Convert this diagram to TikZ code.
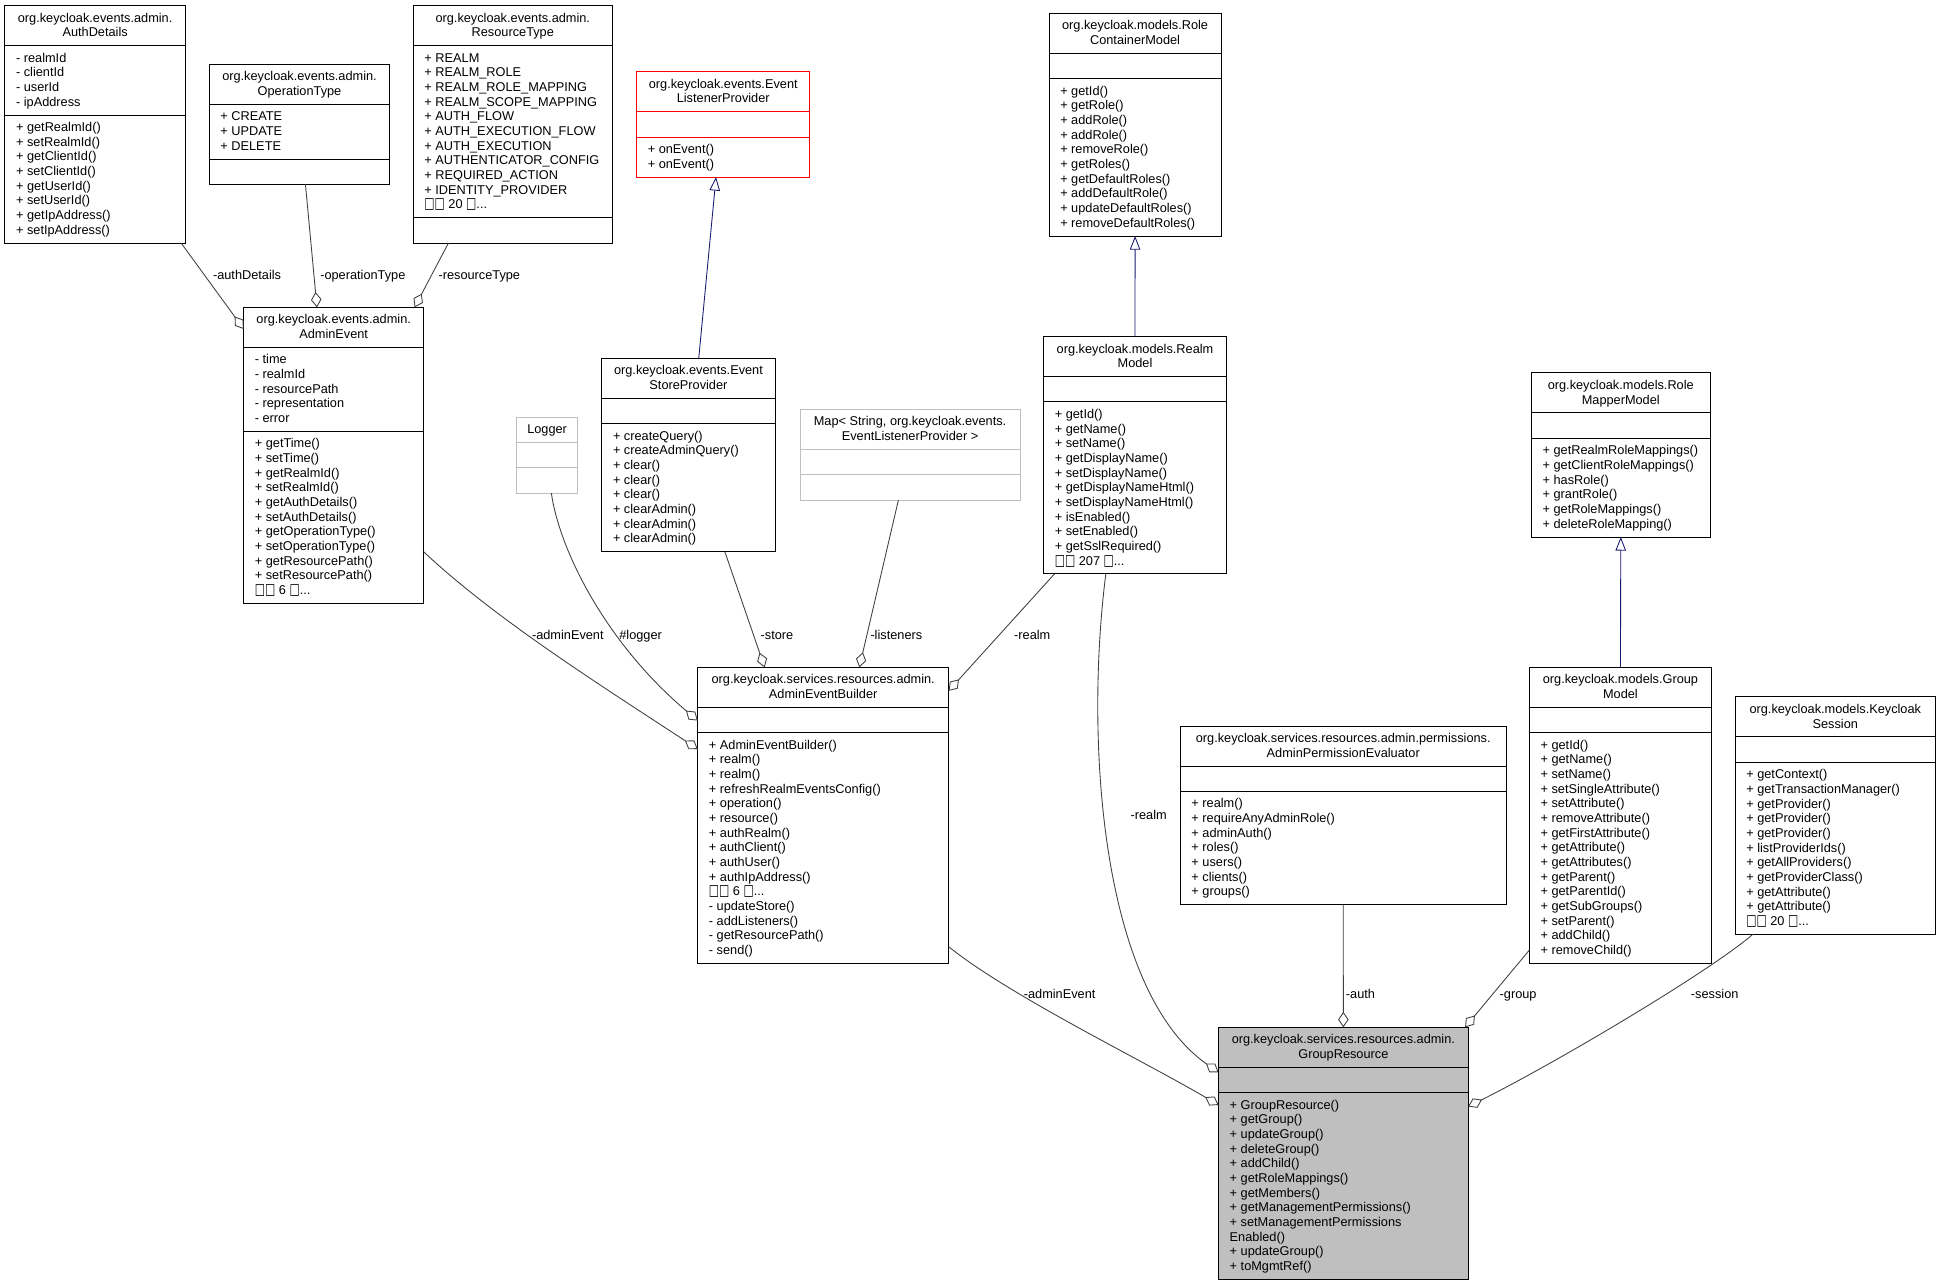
\documentclass[tikz,border=0pt]{standalone}
\usepackage{fontspec}
\usepackage{graphicx}
\setmainfont{Liberation Sans}
\newfontfamily\tofufont{DejaVu Sans}
\usetikzlibrary{arrows.meta}

\definecolor{edgegray}{HTML}{404040}
\definecolor{genblue}{HTML}{191970}
\definecolor{lightborder}{HTML}{BFBFBF}
\definecolor{grfill}{HTML}{BFBFBF}

\newcommand\ls{\rule{0pt}{8.6pt}}
\newcommand\classfont{\fontsize{10.3pt}{11.85pt}\selectfont}
\newcommand\tofu{\scalebox{0.85}[1.2]{\tofufont □}}
\newcommand\more[1]{\tofu\tofu{} #1 \tofu...}

\tikzset{
  classbox/.style={draw=black, line width=0.8pt, fill=white, inner sep=0pt, outer sep=0pt},
  sepline/.style={draw=black, line width=0.8pt},
  ctext/.style={inner sep=0pt, outer sep=0pt, font=\classfont, text=black},
  agg/.style={draw=edgegray, line width=0.7pt, -{Diamond[open,length=12.5pt,width=8.5pt]}},
  gen/.style={draw=genblue, line width=0.7pt, -{Triangle[open,length=11pt,width=8.5pt]}},
  elabel/.style={inner sep=0pt, font=\classfont, text=black, anchor=base},
}

\def\cbparse#1,#2,#3\relax{\def\cbnT{#1}\def\cbnA{#2}\def\cbnM{#3}}

% #1 style, #2 id, #3 x, #4 y, #5 width, #6 counts, #7 title, #8 attributes, #9 methods
\newcommand\umlclass[9][]{%
  \cbparse#6\relax
  \pgfmathsetmacro\cbhT{\cbnT*11.85+8.6}%
  \pgfmathsetmacro\cbhA{(\cbnA==0)?20.5:(\cbnA*11.85+8.6)}%
  \pgfmathsetmacro\cbhM{(\cbnM==0)?20.5:(\cbnM*11.85+8.6)}%
  \pgfmathsetmacro\cbhAll{\cbhT+\cbhA+\cbhM}%
  \pgfmathsetmacro\cbhTA{\cbhT+\cbhA}%
  \pgfmathsetmacro\cbyA{\cbhT+4.7}%
  \pgfmathsetmacro\cbyM{\cbhTA+4.7}%
  \node[classbox,#1,minimum width=#5pt,minimum height=\cbhAll pt,anchor=north west] (#2) at (#3,#4) {};
  \draw[sepline,#1] ([yshift=-\cbhT pt]#2.north west) -- ([yshift=-\cbhT pt]#2.north east);
  \draw[sepline,#1] ([yshift=-\cbhTA pt]#2.north west) -- ([yshift=-\cbhTA pt]#2.north east);
  \node[ctext,anchor=north,align=center] (#2-t) at ([yshift=-4.7pt]#2.north) {\ls#7};
  \node[ctext,anchor=north west,align=left] (#2-a) at ([xshift=9pt,yshift=-\cbyA pt]#2.north west) {\ls#8};
  \node[ctext,anchor=north west,align=left] (#2-m) at ([xshift=9pt,yshift=-\cbyM pt]#2.north west) {\ls#9};
}

\begin{document}
\begin{tikzpicture}[x=1pt,y=-1pt]
\fill[white] (0,0) rectangle (1568,1038);
\useasboundingbox (0,0) rectangle (1568,1038);

% ---------------- classes ----------------
\umlclass{authdet}{4.0}{4.6}{145.7}{2,4,8}{org.keycloak.events.admin.\\AuthDetails}%
 {- realmId\\- clientId\\- userId\\- ipAddress}%
 {+ getRealmId()\\+ setRealmId()\\+ getClientId()\\+ setClientId()\\+ getUserId()\\+ setUserId()\\+ getIpAddress()\\+ setIpAddress()}

\umlclass{optype}{169.1}{52.0}{145.7}{2,3,0}{org.keycloak.events.admin.\\OperationType}%
 {+ CREATE\\+ UPDATE\\+ DELETE}{}

\umlclass{restype}{333.9}{4.6}{160.7}{2,11,0}{org.keycloak.events.admin.\\ResourceType}%
 {+ REALM\\+ REALM\_ROLE\\+ REALM\_ROLE\_MAPPING\\+ REALM\_SCOPE\_MAPPING\\+ AUTH\_FLOW\\+ AUTH\_EXECUTION\_FLOW\\+ AUTH\_EXECUTION\\+ AUTHENTICATOR\_CONFIG\\+ REQUIRED\_ACTION\\+ IDENTITY\_PROVIDER\\\more{20}}{}

\umlclass[draw=red]{elp}{514.3}{57.9}{139.9}{2,0,2}{org.keycloak.events.Event\\ListenerProvider}%
 {}{+ onEvent()\\+ onEvent()}

\umlclass{rcm}{847.5}{10.8}{138.9}{2,0,10}{org.keycloak.models.Role\\ContainerModel}%
 {}{+ getId()\\+ getRole()\\+ addRole()\\+ addRole()\\+ removeRole()\\+ getRoles()\\+ getDefaultRoles()\\+ addDefaultRole()\\+ updateDefaultRoles()\\+ removeDefaultRoles()}

\umlclass{adminevent}{196.9}{248.3}{145.3}{2,5,11}{org.keycloak.events.admin.\\AdminEvent}%
 {- time\\- realmId\\- resourcePath\\- representation\\- error}%
 {+ getTime()\\+ setTime()\\+ getRealmId()\\+ setRealmId()\\+ getAuthDetails()\\+ setAuthDetails()\\+ getOperationType()\\+ setOperationType()\\+ getResourcePath()\\+ setResourcePath()\\\more{6}}

\umlclass[draw=lightborder]{logger}{417.2}{336.9}{49.6}{1,0,0}{Logger}{}{}

\umlclass{esp}{486.2}{289.5}{139.9}{2,0,8}{org.keycloak.events.Event\\StoreProvider}%
 {}{+ createQuery()\\+ createAdminQuery()\\+ clear()\\+ clear()\\+ clear()\\+ clearAdmin()\\+ clearAdmin()\\+ clearAdmin()}

\umlclass[draw=lightborder]{map}{646.3}{330.7}{177.7}{2,0,0}{Map< String, org.keycloak.events.\\EventListenerProvider >}{}{}

\umlclass{realm}{843.1}{271.9}{147.6}{2,0,11}{org.keycloak.models.Realm\\Model}%
 {}{+ getId()\\+ getName()\\+ setName()\\+ getDisplayName()\\+ setDisplayName()\\+ getDisplayNameHtml()\\+ setDisplayNameHtml()\\+ isEnabled()\\+ setEnabled()\\+ getSslRequired()\\\more{207}}

\umlclass{rmm}{1237.2}{301.3}{144.2}{2,0,6}{org.keycloak.models.Role\\MapperModel}%
 {}{+ getRealmRoleMappings()\\+ getClientRoleMappings()\\+ hasRole()\\+ grantRole()\\+ getRoleMappings()\\+ deleteRoleMapping()}

\umlclass{aeb}{563.7}{539.1}{202.6}{2,0,15}{org.keycloak.services.resources.admin.\\AdminEventBuilder}%
 {}{+ AdminEventBuilder()\\+ realm()\\+ realm()\\+ refreshRealmEventsConfig()\\+ operation()\\+ resource()\\+ authRealm()\\+ authClient()\\+ authUser()\\+ authIpAddress()\\\more{6}\\- updateStore()\\- addListeners()\\- getResourcePath()\\- send()}

\umlclass{ape}{953.5}{586.5}{263.2}{2,0,7}{org.keycloak.services.resources.admin.permissions.\\AdminPermissionEvaluator}%
 {}{+ realm()\\+ requireAnyAdminRole()\\+ adminAuth()\\+ roles()\\+ users()\\+ clients()\\+ groups()}

\umlclass{gm}{1235.5}{539.1}{147.1}{2,0,15}{org.keycloak.models.Group\\Model}%
 {}{+ getId()\\+ getName()\\+ setName()\\+ setSingleAttribute()\\+ setAttribute()\\+ removeAttribute()\\+ getFirstAttribute()\\+ getAttribute()\\+ getAttributes()\\+ getParent()\\+ getParentId()\\+ getSubGroups()\\+ setParent()\\+ addChild()\\+ removeChild()}

\umlclass{ks}{1401.7}{563.0}{161.8}{2,0,11}{org.keycloak.models.Keycloak\\Session}%
 {}{+ getContext()\\+ getTransactionManager()\\+ getProvider()\\+ getProvider()\\+ getProvider()\\+ listProviderIds()\\+ getAllProviders()\\+ getProviderClass()\\+ getAttribute()\\+ getAttribute()\\\more{20}}

\umlclass[fill=grfill]{gr}{984.4}{829.9}{201.6}{2,0,12}{org.keycloak.services.resources.admin.\\GroupResource}%
 {}{+ GroupResource()\\+ getGroup()\\+ updateGroup()\\+ deleteGroup()\\+ addChild()\\+ getRoleMappings()\\+ getMembers()\\+ getManagementPermissions()\\+ setManagementPermissions\\Enabled()\\+ updateGroup()\\+ toMgmtRef()}

% ---------------- generalizations ----------------
\draw[gen] ([xshift=8.3pt]esp.north) -- ([xshift=-5.8pt]elp.south);
\draw[gen] (realm.north) -- (rcm.south);
\draw[gen] (gm.north) -- (rmm.south);

% ---------------- aggregations ----------------
\draw[agg] ([xshift=-3.4pt]authdet.south east) -- ([yshift=-17.5pt]adminevent.north west);
\draw[agg] ([xshift=4.8pt]optype.south) -- ([xshift=-13.5pt]adminevent.north);
\draw[agg] ([xshift=-52pt]restype.south) -- ([xshift=-7.3pt]adminevent.north east);
\draw[agg] ([yshift=41.7pt]adminevent.south east) .. controls (400,500) and (485.7,553.9) .. ([yshift=-66pt]aeb.north west);
\draw[agg] ([xshift=3.4pt]logger.south) .. controls (452,445) and (490,520) .. ([yshift=-43pt]aeb.north west);
\draw[agg] ([xshift=29.4pt]esp.south) -- ([xshift=-47.3pt]aeb.north);
\draw[agg] ([xshift=-9.4pt]map.south) -- ([xshift=29.2pt]aeb.north);
\draw[agg] ([xshift=-65.1pt]realm.south) -- ([yshift=-19pt]aeb.north east);
\draw[agg] ([xshift=-23.6pt]realm.south) .. controls (876,600) and (890,800) .. ([yshift=-36.4pt]gr.north west);
\draw[agg] ([yshift=13.5pt]aeb.south east) .. controls (816.3,804.7) and (919.4,854.6) .. ([yshift=-62.7pt]gr.north west);
\draw[agg] (ape.south) -- (gr.north);
\draw[agg] ([yshift=10.8pt]gm.south west) -- ([xshift=-2.5pt]gr.north east);
\draw[agg] ([xshift=14.3pt]ks.south west) .. controls (1381,785) and (1256,859) .. ([yshift=-64pt]gr.north east);

% ---------------- labels ----------------
\node[elabel] (l-authdetails) at (199.6,225.9) {-authDetails};
\node[elabel] (l-optype) at (293.1,225.9) {-operationType};
\node[elabel] (l-restype) at (387.2,225.9) {-resourceType};
\node[elabel] (l-adminevent1) at (458.7,516.7) {-adminEvent};
\node[elabel] (l-logger) at (517.5,516.7) {\#logger};
\node[elabel] (l-store) at (627.7,516.7) {-store};
\node[elabel] (l-listeners) at (724.1,516.7) {-listeners};
\node[elabel] (l-realm1) at (833.9,516.7) {-realm};
\node[elabel] (l-realm2) at (927.9,662.1) {-realm};
\node[elabel] (l-adminevent2) at (856,806.9) {-adminEvent};
\node[elabel] (l-auth) at (1099,806.9) {-auth};
\node[elabel] (l-group) at (1226.4,806.9) {-group};
\node[elabel] (l-session) at (1385.2,806.9) {-session};
\end{tikzpicture}
\end{document}
